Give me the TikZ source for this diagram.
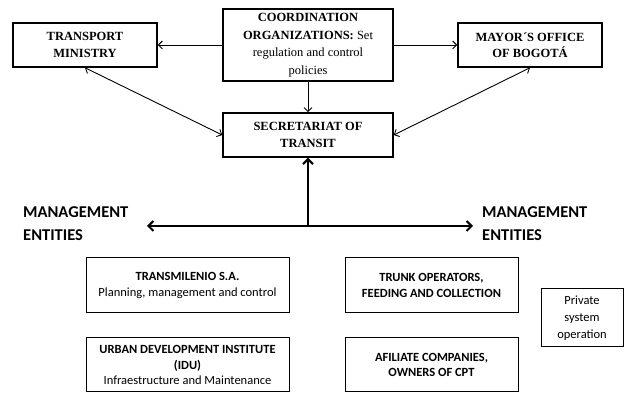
\documentclass[tikz,border=0pt]{standalone}
\usepackage{fontspec}
\setmainfont{Liberation Serif}
\newfontfamily\calfont{Carlito}
\usepackage{tikz}
\usetikzlibrary{arrows.meta,calc,positioning}

\begin{document}
\begin{tikzpicture}[x=1pt,y=-1pt]

\tikzset{topbox/.style = {shape=rectangle,draw,line width=1.5pt,align=center,inner sep=0pt,
  font=\fontsize{12.5}{16.5}\selectfont}}
\tikzset{lowbox/.style = {shape=rectangle,draw,line width=1pt,align=center,inner sep=0pt,
  font=\calfont\fontsize{12.5}{15.5}\selectfont}}
\tikzset{mgmt/.style = {align=left,inner sep=0pt,anchor=west,
  font=\calfont\bfseries\fontsize{16.5}{23}\selectfont}}
\tikzset{edge/.style = {line width=0.9pt,-{Straight Barb[length=4pt,width=8pt]}}}
\tikzset{bothedge/.style = {line width=0.9pt,{Straight Barb[length=4pt,width=8pt]}-{Straight Barb[length=4pt,width=8pt]}}}
\tikzset{thickedge/.style = {line width=2pt,-{Straight Barb[length=5pt,width=10pt]}}}
\tikzset{thickboth/.style = {line width=2pt,{Straight Barb[length=5pt,width=10pt]}-{Straight Barb[length=5pt,width=10pt]}}}

\useasboundingbox (0,0) rectangle (625,395);

% boxes
\node[topbox,minimum width=144pt,minimum height=44pt] (tm) at (85,45) {\textbf{TRANSPORT}\\\textbf{MINISTRY}};
\node[topbox,minimum width=170pt,minimum height=72pt,font=\fontsize{12.5}{17.5}\selectfont] (co) at (308,45) {\textbf{COORDINATION}\\\textbf{ORGANIZATIONS:} Set\\regulation and control\\policies};
\node[topbox,minimum width=144pt,minimum height=44pt] (mo) at (530,45) {\textbf{MAYOR´S OFFICE}\\\textbf{OF BOGOTÁ}};
\node[topbox,minimum width=170pt,minimum height=44pt,font=\fontsize{12.5}{17}\selectfont] (st) at (308,135) {\textbf{SECRETARIAT OF}\\\textbf{TRANSIT}};

\node[lowbox,minimum width=203pt,minimum height=55pt] (tms) at (187.5,285.5) {\textbf{TRANSMILENIO S.A.}\\Planning, management and control};
\node[lowbox,minimum width=173pt,minimum height=55pt] (tr) at (431.5,285.5) {\textbf{TRUNK OPERATORS,}\\\textbf{FEEDING AND COLLECTION}};
\node[lowbox,minimum width=203pt,minimum height=54pt] (idu) at (187.5,365) {\textbf{URBAN DEVELOPMENT INSTITUTE}\\\textbf{(IDU)}\\Infraestructure and Maintenance};
\node[lowbox,minimum width=173pt,minimum height=54pt] (af) at (431.5,365) {\textbf{AFILIATE COMPANIES,}\\\textbf{OWNERS OF CPT}};
\node[lowbox,minimum width=82pt,minimum height=58pt,font=\calfont\fontsize{12.5}{17}\selectfont] (pv) at (582,318) {Private\\system\\operation};

% labels
\node[mgmt] (mleft) at (23,224) {MANAGEMENT\\ENTITIES};
\node[mgmt] (mright) at (482,224) {MANAGEMENT\\ENTITIES};

\coordinate (jn) at (308,226);
\coordinate (lt) at (147,226);
\coordinate (rt) at (473,226);

%edges
\draw[edge] (co) -- (tm);
\draw[edge] (co) -- (mo);
\draw[edge] (co) -- (st);
\draw[bothedge] (tm.south) -- (st.west);
\draw[bothedge] (mo.south) -- (st.east);
\draw[thickedge] (jn) -- (st.south);
\draw[thickboth] (lt) -- (rt);
\end{tikzpicture}
\end{document}
